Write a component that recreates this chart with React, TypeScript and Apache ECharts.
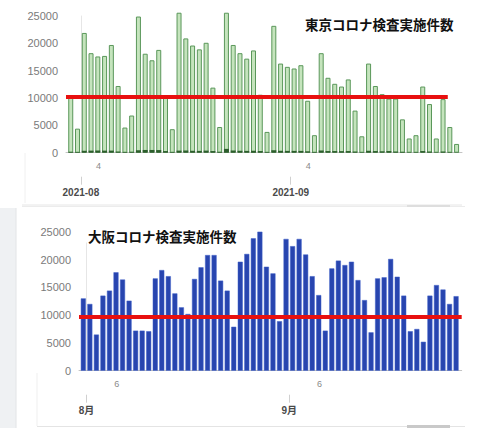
import React, { useEffect, useRef } from "react";
import * as echarts from "echarts";

// ---- data ----
const tokyoStart = "2021-07-30";
const osakaStart = "2021-07-31";

const tokyoTests = [
  10100, 4400, 21900, 18200, 17600, 17700, 19700, 12200, 4600, 6800,
  24900, 18100, 16900, 18800, 10200, 4300, 25600, 20900, 19600, 18900,
  20100, 11900, 4700, 25600, 19700, 18200, 17200, 18700, 10600, 3800,
  23200, 16300, 15700, 15400, 16000, 9500, 3200, 18200, 13700, 12600,
  12100, 13400, 7700, 3000, 16300, 12200, 10700, 9900, 9900, 6100,
  2600, 3200, 12100, 8900, 2600, 9800, 4700, 1600,
];
const tokyoDarkSegment = [
  150, 120, 350, 380, 400, 380, 380, 200, 120, 150,
  450, 500, 500, 480, 300, 120, 380, 400, 350, 330,
  380, 300, 150, 700, 400, 350, 330, 350, 300, 120,
  450, 350, 330, 330, 330, 250, 120, 400, 300, 300,
  280, 300, 200, 100, 350, 300, 250, 300, 200, 150,
  80, 100, 300, 200, 80, 200, 100, 60,
];
const osakaTests = [
  13000, 12000, 6500, 13500, 14400, 17700, 16400, 12600, 7200, 7200,
  7100, 16600, 18100, 17000, 13900, 11400, 10200, 16500, 18600, 20800,
  20800, 16200, 14400, 7900, 19600, 21000, 23800, 25000, 18700, 17500,
  8900, 23700, 22400, 23700, 20900, 17000, 13600, 7200, 18400, 19800,
  19000, 19600, 16300, 12700, 6900, 16600, 16800, 20100, 16900, 13500,
  7100, 7500, 5200, 13500, 15400, 14600, 12000, 13400,
];
const tokyoRefValue = 10200;
const tokyoRefEnd = "2021-09-24";
const osakaRefValue = 9700;

const tokyoTitle = "東京コロナ検査実施件数";
const osakaTitle = "大阪コロナ検査実施件数";

const tokyoDayTicks = ["2021-08-04", "2021-09-04"];
const osakaDayTicks = ["2021-08-06", "2021-09-06"];
const monthTicks = ["2021-08-01", "2021-09-01"];
const tokyoMonthLabels = ["2021-08", "2021-09"];
const osakaMonthLabels = ["8月", "9月"];
const yTicks = [0, 5000, 10000, 15000, 20000, 25000];

// ---- helpers ----
const ORIGIN = Date.UTC(2021, 7, 1);
function dayOffset(d: string): number {
  const [y, m, dd] = d.split("-").map(Number);
  return (Date.UTC(y, m - 1, dd) - ORIGIN) / 86400000;
}
function toPairs(start: string, vals: number[]) {
  const s = dayOffset(start);
  return vals.map((v, i) => [s + i + 0.5, v]);
}
const LABEL_SHIFT = -0.4;

function labelFor(values: number[], labels: string[]) {
  return (v: number) => {
    let best = 0;
    let bd = Infinity;
    values.forEach((p, i) => {
      const d = Math.abs(p - v);
      if (d < bd) {
        bd = d;
        best = i;
      }
    });
    return labels[best];
  };
}

function buildXAxes(
  gridIndex: number,
  min: number,
  max: number,
  dayTicks: string[],
  monthLabels: string[]
) {
  const dayPos = dayTicks.map((d) => dayOffset(d) + LABEL_SHIFT);
  const dayLabels = dayTicks.map((d) => String(Number(d.split("-")[2])));
  const monthPos = monthTicks.map((d) => dayOffset(d));
  return [
    {
      type: "value",
      gridIndex,
      min,
      max,
      axisLine: { show: true, lineStyle: { color: "#c4c4c4", width: 1 } },
      axisTick: { show: false },
      splitLine: { show: false },
      axisLabel: {
        customValues: dayPos,
        formatter: labelFor(dayPos, dayLabels),
        fontSize: 9,
        color: "#8a8a8a",
        margin: 9,
        fontFamily: "Liberation Sans",
      },
    },
    {
      type: "value",
      gridIndex,
      min,
      max,
      position: "bottom",
      offset: 24,
      axisLine: { show: false },
      axisTick: {
        show: true,
        customValues: monthPos,
        length: 8,
        lineStyle: { color: "#d0d0d0" },
      },
      splitLine: { show: false },
      axisLabel: {
        customValues: monthPos,
        formatter: labelFor(monthPos, monthLabels),
        fontSize: 10,
        fontWeight: "bold",
        color: "#4a4a4a",
        margin: 11,
        fontFamily: "Liberation Sans, Noto Sans CJK JP",
      },
    },
  ];
}

function buildYAxis(gridIndex: number) {
  return {
    type: "value",
    gridIndex,
    min: 0,
    max: 25000,
    interval: 5000,
    axisLine: { show: true, lineStyle: { color: "#e6e6e6" } },
    axisTick: {
      show: true,
      customValues: [0],
      length: 6,
      lineStyle: { color: "#c4c4c4" },
    },
    splitLine: { show: true, lineStyle: { color: "#e8e8e8" } },
    axisLabel: {
      fontSize: 11,
      color: "#7a7a7a",
      margin: 8,
      fontFamily: "Liberation Sans",
      customValues: yTicks,
      formatter: (v: number) => String(v),
    },
  };
}

const T_MIN = -2.2;
const T_MAX = 56.3;
const O_MIN = -1.16;
const O_MAX = 57.36;

export default function App() {
  const ref = useRef<HTMLDivElement>(null);
  useEffect(() => {
    if (!ref.current) return;
    const chart = echarts.init(ref.current, undefined, { renderer: "svg" });
    const option: any = {
      animation: false,
      backgroundColor: "#ffffff",
      title: [
        {
          text: tokyoTitle,
          left: 305,
          top: 17,
          padding: 0,
          textStyle: {
            fontSize: 13.5,
            fontWeight: "bold",
            color: "#111",
            fontFamily: "Noto Sans CJK JP",
          },
        },
        {
          text: osakaTitle,
          left: 86,
          top: 229,
          padding: [0, 2],
          backgroundColor: "#ffffff",
          textStyle: {
            fontSize: 13.5,
            fontWeight: "bold",
            color: "#111",
            fontFamily: "Noto Sans CJK JP",
          },
        },
      ],
      graphic: [
        { type: "line", z: -1, shape: { x1: 22, y1: 205, x2: 462, y2: 205 }, style: { stroke: "#e6e6e6", lineWidth: 1 } },
        { type: "line", z: -1, shape: { x1: 25, y1: 153, x2: 25, y2: 203 }, style: { stroke: "#f0f0f0", lineWidth: 1 } },
        { type: "rect", z: -1, shape: { x: 0, y: 208, width: 16, height: 220 }, style: { fill: "#eff1f3" } },
        { type: "line", z: -1, shape: { x1: 16, y1: 208, x2: 16, y2: 428 }, style: { stroke: "#e2e4e6", lineWidth: 1 } },
        { type: "line", z: -1, shape: { x1: 22, y1: 206.5, x2: 465, y2: 206.5 }, style: { stroke: "#ececec", lineWidth: 1 } },
        { type: "rect", z: -1, shape: { x: 407, y: 205, width: 43, height: 2 }, style: { fill: "#dedede" } },
        { type: "line", z: -1, shape: { x1: 37, y1: 373, x2: 37, y2: 426 }, style: { stroke: "#efefef", lineWidth: 1 } },
        { type: "line", z: -1, shape: { x1: 37, y1: 426.5, x2: 465, y2: 426.5 }, style: { stroke: "#e4e4e4", lineWidth: 1 } },
        { type: "rect", z: -1, shape: { x: 407, y: 425, width: 43, height: 3 }, style: { fill: "#c9c9c9" } },
      ],
      grid: [
        { left: 66, right: 18, top: 16, height: 136.7, containLabel: false },
        { left: 79, right: 18.3, top: 231.7, height: 139, containLabel: false },
      ],
      xAxis: [
        ...buildXAxes(0, T_MIN, T_MAX, tokyoDayTicks, tokyoMonthLabels),
        ...buildXAxes(1, O_MIN, O_MAX, osakaDayTicks, osakaMonthLabels),
      ],
      yAxis: [buildYAxis(0), buildYAxis(1)],
      series: [
        {
          type: "bar",
          name: "東京",
          xAxisIndex: 0,
          yAxisIndex: 0,
          barWidth: 5,
          clip: false,
          data: toPairs(tokyoStart, tokyoTests),
          itemStyle: { color: "#c5e4bd", borderColor: "#5a975a", borderWidth: 1 },
          markLine: {
            silent: true,
            symbol: "none",
            label: { show: false },
            lineStyle: { color: "#e8100f", width: 4, type: "solid" },
            data: [
              [
                { coord: [T_MIN, tokyoRefValue] },
                { coord: [dayOffset(tokyoRefEnd) + 0.2, tokyoRefValue] },
              ],
            ],
          },
          z: 2,
        },
        {
          type: "bar",
          name: "東京2",
          xAxisIndex: 0,
          yAxisIndex: 0,
          barWidth: 5,
          barGap: "-100%",
          clip: false,
          data: toPairs(tokyoStart, tokyoDarkSegment),
          itemStyle: { color: "#2d5e2d" },
          z: 3,
        },
        {
          type: "bar",
          name: "大阪",
          xAxisIndex: 2,
          yAxisIndex: 1,
          barWidth: 5,
          clip: false,
          data: toPairs(osakaStart, osakaTests),
          itemStyle: { color: "#2845af", borderColor: "#3d5fc8", borderWidth: 0.5 },
          markLine: {
            silent: true,
            symbol: "none",
            label: { show: false },
            lineStyle: { color: "#e8100f", width: 4, type: "solid" },
            data: [
              [
                { coord: [O_MIN, osakaRefValue] },
                { coord: [O_MAX, osakaRefValue] },
              ],
            ],
          },
          z: 2,
        },
      ],
    };
    chart.setOption(option);
    return () => chart.dispose();
  }, []);
  return (
    <div
      ref={ref}
      style={{ position: "fixed", left: 0, top: 0, width: 480, height: 428, background: "#fff" }}
    />
  );
}
